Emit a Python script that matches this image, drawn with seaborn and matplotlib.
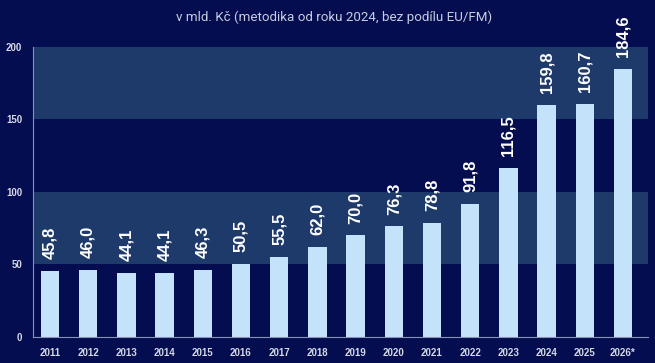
import matplotlib
matplotlib.use("Agg")
import matplotlib.pyplot as plt
import seaborn as sns
import pandas as pd

years = ["2011", "2012", "2013", "2014", "2015", "2016", "2017", "2018",
         "2019", "2020", "2021", "2022", "2023", "2024", "2025", "2026*"]
values = [45.8, 46.0, 44.1, 44.1, 46.3, 50.5, 55.5, 62.0,
          70.0, 76.3, 78.8, 91.8, 116.5, 159.8, 160.7, 184.6]
yticks = [0, 50, 100, 150, 200]

bg = "#030d4f"
band = "#1d3a6b"
bar_color = "#c4e3fb"
tick_color = "#d5d9e6"

df = pd.DataFrame({"rok": years, "hodnota": values})

sns.set_style("white")
plt.rcParams["font.family"] = ["Liberation Sans", "DejaVu Sans"]
fig = plt.figure(figsize=(6.55, 3.63), dpi=100, facecolor=bg)
ax = fig.add_axes([0.050, 0.0716, 0.939, 0.799])
ax.set_facecolor(bg)

ax.axhspan(50, 100, color=band, zorder=0, lw=0)
ax.axhspan(150, 200, color=band, zorder=0, lw=0)

sns.barplot(data=df, x="rok", y="hodnota", color=bar_color, width=0.48,
            saturation=1, linewidth=0, edgecolor=bar_color, ax=ax, zorder=2)

labels = [f"{v:.1f}".replace(".", ",") for v in values]
ax.bar_label(ax.containers[0], labels=labels, rotation=90, padding=8.5,
             color="white", fontsize=12, fontweight="bold", clip_on=False)

ax.set_ylim(0, 200)
ax.set_xlim(-0.45, 15.65)
ax.set_yticks(yticks)
ax.set_xlabel("")
ax.set_ylabel("")
ax.tick_params(axis="both", length=0, colors=tick_color, labelsize=7)
ax.tick_params(axis="y", pad=7.5)
ax.tick_params(axis="x", pad=8)
for lab in ax.get_xticklabels() + ax.get_yticklabels():
    lab.set_fontweight("bold")
for s in ["top", "right"]:
    ax.spines[s].set_visible(False)
for s in ["left", "bottom"]:
    ax.spines[s].set_color("#8a93b5")
    ax.spines[s].set_linewidth(0.8)

fig.text(0.51, 0.952, "v mld. Kč (metodika od roku 2024, bez podílu EU/FM)",
         ha="center", va="center", color="#c8cde0", fontsize=9.6,
         family=["Roboto", "DejaVu Sans"])

fig.savefig("out.png", dpi=100, facecolor=bg)
